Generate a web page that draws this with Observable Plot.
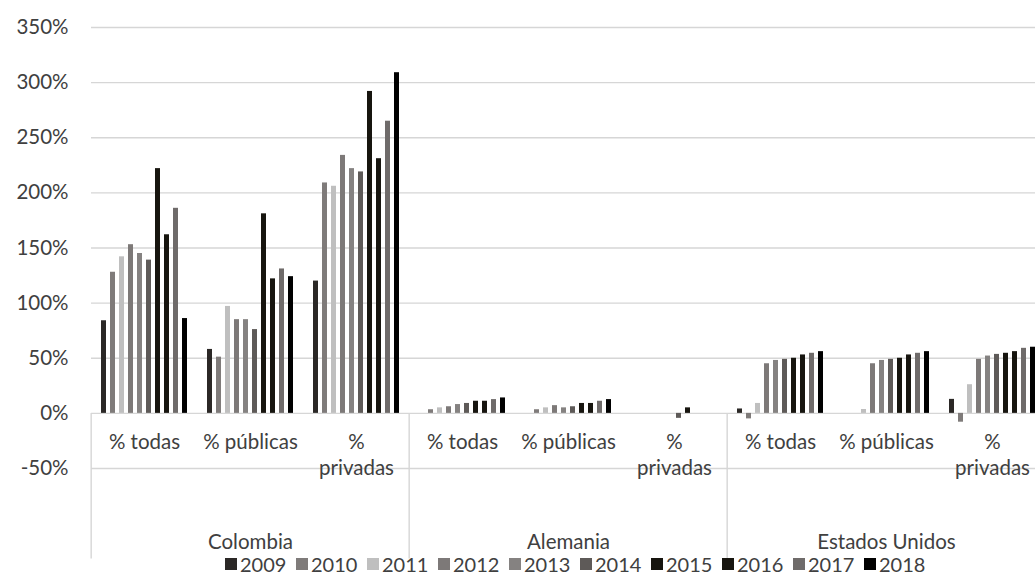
<!DOCTYPE html>
<html>
<head>
<meta charset="utf-8">
<script src="https://cdn.jsdelivr.net/npm/d3@7"></script>
<script src="https://cdn.jsdelivr.net/npm/@observablehq/plot@0.6"></script>
<style>
  html, body { margin: 0; padding: 0; overflow: hidden; background: #fff; }
  body { position: relative; width: 1035px; height: 574px; font-family: Lato, "Open Sans", sans-serif; color: #404040; }
  #chart { width: 1048px; }
  #chart svg { max-width: none !important; }
  #legend { position: absolute; left: 225px; top: 554px; display: flex; font-size: 20px; line-height: 20px; }
  #legend .item { display: flex; align-items: center; width: 71px; }
  #legend .sw { width: 12px; height: 12px; margin-right: 3px; }
</style>
</head>
<body>
<div id="chart"></div>
<div id="legend"></div>
<script>
const countries = ["Colombia", "Alemania", "Estados Unidos"];
const categories = ["% todas", "% públicas", "% privadas"];
const categoryLabels = ["% todas", "% públicas", "%\nprivadas"];
const years = ["2009", "2010", "2011", "2012", "2013", "2014", "2015", "2016", "2017", "2018"];
const yearColors = ["#2b2826", "#7f7b7a", "#bfbfbf", "#7d7978", "#858281", "#5e5a58", "#17150f", "#17150f", "#6f6b6a", "#000000"];
const yTicks = [-50, 0, 50, 100, 150, 200, 250, 300, 350];

// values in percent, by year 2009..2018
const colombiaTodas    = [84, 128, 142, 153, 145, 139, 222, 162, 186, 86];
const colombiaPublicas = [58, 51, 97, 85, 85, 76, 181, 122, 131, 124];
const colombiaPrivadas = [120, 209, 206, 234, 222, 219, 292, 231, 265, 309];
const alemaniaTodas    = [null, 3.3, 5, 6, 8, 9, 11, 11, 12.5, 14];
const alemaniaPublicas = [null, 3.3, 5, 7, 5, 6, 9, 9, 11, 12.5];
const alemaniaPrivadas = [null, null, null, null, null, -4.5, 5, null, null, null];
const eeuuTodas        = [4, -5, 9, 45, 48, 49, 50, 53, 54.5, 56];
const eeuuPublicas     = [null, null, 3.5, 45, 48, 49, 50, 53, 54.5, 56];
const eeuuPrivadas     = [12.7, -8, 26, 49, 52, 53.5, 54.5, 56, 59, 60];

const series = [
  [colombiaTodas, colombiaPublicas, colombiaPrivadas],
  [alemaniaTodas, alemaniaPublicas, alemaniaPrivadas],
  [eeuuTodas, eeuuPublicas, eeuuPrivadas]
];

const keyOf = (c, k) => countries[c] + "|" + categories[k];
const keys = [];
const bars = [];
const catRows = [];
countries.forEach((country, c) => {
  categories.forEach((cat, k) => {
    const key = keyOf(c, k);
    keys.push(key);
    catRows.push({key, label: categoryLabels[k]});
    series[c][k].forEach((v, i) => {
      if (v != null) bars.push({key, year: years[i], value: v});
    });
  });
});
const countryRows = countries.map((country, c) => ({key: keyOf(c, 1), country}));
const sepRows = countries.map((country, c) => ({key: keyOf(c, 0)}));

const W = 1048, ML = 88, H = 560, MT = 27, MB = 92;
const step = (W - ML) / keys.length;
const font = "Lato, 'Open Sans', sans-serif";
const fs = 20.5;

const chart = Plot.plot({
  width: W,
  height: H,
  marginLeft: ML,
  marginRight: 0,
  marginTop: MT,
  marginBottom: MB,
  style: {fontFamily: font, fontSize: fs + "px", color: "#404040", background: "#fff", overflow: "visible"},
  fx: {domain: keys, padding: 0, axis: null, label: null},
  x: {domain: years, paddingInner: 0.47, paddingOuter: 0.85, axis: null},
  y: {domain: [-50, 350], axis: null},
  color: {domain: years, range: yearColors},
  marks: [
    Plot.ruleY(yTicks, {stroke: "#d6d6d6", strokeWidth: 1.4}),
    Plot.ruleX(sepRows, {fx: "key", x: null, y1: 0, y2: -132, dx: -step / 2, stroke: "#d6d6d6", strokeWidth: 1.4}),
    Plot.barY(bars, {fx: "key", x: "year", y: "value", fill: "year"}),
    Plot.text(catRows, {fx: "key", y: 0, text: "label", dy: 17, lineAnchor: "top", lineHeight: 1.28, fontSize: fs, fill: "#404040"}),
    Plot.text(countryRows, {fx: "key", y: -50, text: "country", dy: 74, fontSize: fs, fill: "#404040"}),
    Plot.axisY(yTicks, {tickSize: 0, tickPadding: 23, tickFormat: d => d + "%", fontSize: fs, fill: "#404040", label: null})
  ]
});
document.getElementById("chart").appendChild(chart);

const legend = document.getElementById("legend");
years.forEach((y, i) => {
  const item = document.createElement("div");
  item.className = "item";
  const sw = document.createElement("span");
  sw.className = "sw";
  sw.style.background = yearColors[i];
  const t = document.createElement("span");
  t.textContent = y;
  item.appendChild(sw);
  item.appendChild(t);
  legend.appendChild(item);
});
</script>
</body>
</html>
